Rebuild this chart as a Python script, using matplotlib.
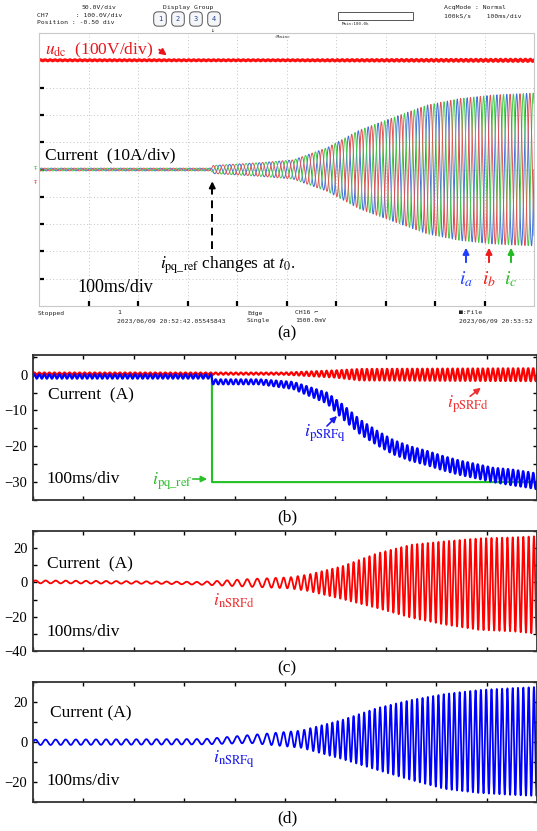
import numpy as np
import matplotlib
matplotlib.use("Agg")
import matplotlib.pyplot as plt
from matplotlib.patches import FancyArrowPatch, Rectangle
from matplotlib.lines import Line2D
from matplotlib.ticker import MultipleLocator

plt.rcParams['font.family'] = ['Liberation Serif', 'DejaVu Sans']
plt.rcParams['mathtext.fontset'] = 'stix'

W, H = 537, 831

# ---------------- data ----------------
# (a) scope: phase current envelope (A) vs time (ms), 50 Hz
scope_t = [0, 348, 352, 400, 446, 513, 582, 648, 715, 784, 850, 917, 1000]
scope_amp = [0.5, 0.5, 1.5, 2.0, 2.5, 3.5, 8.0, 14.5, 19.0, 23.6, 26.0, 27.3, 28.0]
scope_freq = 50
t0_scope = 350
udc_level = 400          # V (shown 4 div above centre)
udc_rip_t = [0, 500, 1000]
udc_rip = [2.0, 2.0, 4.0]

# (b) positive SRF currents (A)
t0_sim = 355
ref_before, ref_after = 0.0, -30.0
pq_t = [0, 354, 356, 450, 516, 583, 615, 649, 683, 714, 748, 782, 813, 847, 881, 913, 946, 980, 1000]
pq_mean = [-0.5, -0.5, -2.0, -2.0, -3.0, -6.5, -10.4, -14.6, -17.7, -20.2, -22.0, -23.3,
           -24.7, -26.0, -27.0, -28.0, -28.6, -29.3, -29.8]
pq_rip = [0.6, 0.6, 0.7, 0.7, 1.0, 1.5, 2.0, 2.0, 2.0, 2.0, 2.0, 2.0, 2.0, 2.0, 2.0, 2.0, 2.2, 2.2, 2.2]
pd_t = [0, 500, 600, 650, 1000]
pd_mean = [0.3, 0.3, 0.2, 0.0, 0.0]
pd_rip = [0.3, 0.3, 1.0, 1.6, 1.8]

# (c) i_nSRFd envelope (A)
nd_t = [0, 250, 330, 430, 510, 546, 613, 683, 750, 817, 885, 954, 1000]
nd_top = [1.2, 0.6, 0.3, 2.0, 3.0, 4.6, 9.4, 17.0, 22.0, 24.0, 25.7, 26.3, 27.0]
nd_bot = [-0.5, -0.8, -1.3, -2.5, -3.5, -5.0, -9.7, -15.0, -20.6, -24.6, -27.7, -28.6, -30.0]

# (d) i_nSRFq envelope (A)
nq_t = [0, 340, 430, 532, 613, 683, 750, 817, 885, 954, 1000]
nq_top = [1.2, 1.5, 3.5, 5.7, 11.0, 17.0, 21.0, 24.0, 26.0, 27.0, 27.5]
nq_bot = [-1.5, -1.2, -0.5, -2.9, -8.5, -14.0, -19.0, -23.5, -25.5, -26.5, -27.0]

# oscillation frequency in the SRF plots (Hz)
f_t = [0, 450, 580, 1000]
f_hz = [50, 50, 95, 95]

dt = 0.05
t = np.arange(0, 1000 + dt, dt)


def osc(knots, top, bot):
    up = np.interp(t, knots, top)
    lo = np.interp(t, knots, bot)
    ph = 2 * np.pi * np.cumsum(np.interp(t, f_t, f_hz)) * dt / 1000
    return (up + lo) / 2 + (up - lo) / 2 * np.sin(ph)


def rip(knots, mean, amp, f=100):
    return np.interp(t, knots, mean) + np.interp(t, knots, amp) * np.sin(2 * np.pi * f * t / 1000)


fig = plt.figure(figsize=(W / 100, H / 100), dpi=100)


def add_ax(l, top, r, b):
    return fig.add_axes([l / W, 1 - b / H, (r - l) / W, (b - top) / H])


def label(x, y, s, **kw):
    kw.setdefault('va', 'center')
    fig.text(x / W, 1 - y / H, s, **kw)


def arrow(x1, y1, x2, y2, color, lw=1.4):
    fig.add_artist(FancyArrowPatch((x1 / W, 1 - y1 / H), (x2 / W, 1 - y2 / H),
                                   transform=fig.transFigure, arrowstyle='-|>',
                                   mutation_scale=9, color=color, lw=lw))


# ---------------- (a) oscilloscope screen ----------------
ax = add_ax(39, 33, 534, 306)
ax.set_xlim(0, 1000)
ax.set_ylim(-5, 5)
for k in range(1, 10):
    ax.axvline(k * 100, color='#c4c4c4', lw=0.7, ls=(0, (1, 2.5)), zorder=0)
    ax.axhline(k - 5, color='#c4c4c4', lw=0.7, ls=(0, (1, 2.5)), zorder=0)
for s in ax.spines.values():
    s.set_color('#c8c8c8')
ax.set_xticks(range(100, 1000, 100))
ax.set_yticks(range(-4, 5))
ax.tick_params(direction='in', length=3.5, width=1.6, color='black',
               labelbottom=False, labelleft=False)

amp = np.interp(t, scope_t, scope_amp)
w = 2 * np.pi * scope_freq * t / 1000
ia = amp * np.sin(w)
ib = amp * np.sin(w - 2 * np.pi / 3)
ic = amp * np.sin(w + 2 * np.pi / 3)
ax.plot(t, ia / 10, color='#3f6fd8', lw=0.7)
ax.plot(t, ic / 10, color='#45cc45', lw=0.7)
ax.plot(t, ib / 10, color='#e25252', lw=0.7)
udc = udc_level + np.interp(t, udc_rip_t, udc_rip) * np.sin(2 * np.pi * 100 * t / 1000)
ax.plot(t, udc / 100, color='#ff1010', lw=2.2)

# header / status text of the scope
mono = dict(family=['DejaVu Sans Mono', 'DejaVu Sans'], fontsize=4.6, color='#222222')
label(82, 7, '50.0V/div', **mono)
label(37, 15, 'CH7       : 100.0V/div', **mono)
label(37, 22, 'Position : -0.50 div', **mono)
label(188, 8, 'Display Group', ha='center', **mono)
for i, xc in enumerate([160, 178, 196, 214]):
    label(xc, 19, str(i + 1), ha='center', family='DejaVu Sans Mono', fontsize=5,
          color='#24428a', bbox=dict(boxstyle='round,pad=0.6', fc='#f4f6fa', ec='#555555', lw=0.7))
label(212, 30, '\u2193', ha='center', **mono)
fig.add_artist(Rectangle((338 / W, 1 - 20 / H), 75 / W, 8 / H, transform=fig.transFigure,
                         fc='white', ec='#555555', lw=0.7))
label(342, 24, 'Main:100.0k', family='DejaVu Sans Mono', fontsize=3, color='#222222')
label(444, 8, 'AcqMode : Normal', **mono)
label(444, 16, '100kS/s    100ms/div', **mono)
label(283, 37, '<Main>', ha='center', family='DejaVu Sans Mono', fontsize=3.2, color='#222222')
label(38, 313, 'Stopped', **mono)
label(117, 313, '1', **mono)
label(117, 321, '2023/06/09 20:52:42.05545843', **mono)
label(247, 313, 'Edge', **mono)
label(247, 321, 'Single', **mono)
label(295, 313, 'CH16 \u2310', **mono)
label(295, 321, '1500.0mV', **mono)
label(459, 313, '\u25a0:File', **mono)
label(459, 321, '2023/06/09 20:53:52', **mono)
label(35, 169, '\u0166', ha='center', family='DejaVu Sans', fontsize=4, color='#30b030')
label(35, 183, '\u0166', ha='center', family='DejaVu Sans', fontsize=4, color='#e03030')

# annotations on the scope
label(45, 50, r'$u_{\mathrm{dc}}$  (100V/div)', fontsize=12.5, color='#e8161b')
arrow(157, 48, 169, 57, '#e8161b')
label(45, 155, 'Current  (10A/div)', fontsize=12.5)
ax.add_line(Line2D([t0_scope, t0_scope], [-2.9, -0.65], color='black', lw=1.4, ls=(0, (4, 3))))
ax.annotate('', xy=(t0_scope, -0.33), xytext=(t0_scope, -0.7),
            arrowprops=dict(arrowstyle='-|>', color='black', lw=1.4, mutation_scale=9))
label(160, 265, r'$i_{\mathrm{pq\_ref}}$ changes at $t_0$.', fontsize=12.5)
label(77, 288, '100ms/div', fontsize=13)
for xc, col, s in [(466, '#1f3fff', r'$i_a$'), (489, '#ee1c1c', r'$i_b$'), (511, '#22bb22', r'$i_c$')]:
    arrow(xc, 265, xc, 245, col)
    label(xc, 279, s, ha='center', fontsize=14, color=col)
label(287, 333, '(a)', ha='center', fontsize=12.5)


def style(a, ylim, major, minor):
    a.set_xlim(0, 1000)
    a.set_ylim(*ylim)
    a.xaxis.set_major_locator(MultipleLocator(100))
    a.yaxis.set_major_locator(MultipleLocator(major))
    a.yaxis.set_minor_locator(MultipleLocator(minor))
    a.tick_params(which='both', direction='in', top=True, right=True, length=3,
                  width=1.0, labelbottom=False, labelsize=10.5, pad=4)
    for s in a.spines.values():
        s.set_linewidth(1.3)
        s.set_color('#333333')


# ---------------- (b) ----------------
axb = add_ax(33, 355, 537, 500)
ref = np.where(t < t0_sim, ref_before, ref_after)
axb.plot(t, ref, color='#22c022', lw=1.5)
axb.plot(t, rip(pd_t, pd_mean, pd_rip), color='#ff0000', lw=1.6)
axb.plot(t, rip(pq_t, pq_mean, pq_rip), color='#0000ff', lw=1.6)
style(axb, (-35, 5.5), 10, 5)
label(48, 395, 'Current  (A)', fontsize=12.5)
label(46, 479, '100ms/div', fontsize=12.5)
label(152, 481, r'$i_{\mathrm{pq\_ref}}$', fontsize=13, color='#2cbf2c')
arrow(190, 479, 210, 479, '#2cbf2c', lw=1.2)
label(304, 433, r'$i_{\mathrm{pSRFq}}$', fontsize=13, color='#1a1aee')
arrow(325, 428, 339, 414, '#1a1aee', lw=1.2)
label(447, 404, r'$i_{\mathrm{pSRFd}}$', fontsize=13, color='#f03030')
arrow(468, 398, 483, 386, '#f03030', lw=1.2)
label(287, 517, '(b)', ha='center', fontsize=12.5)

# ---------------- (c) ----------------
axc = add_ax(33, 531, 537, 651)
axc.plot(t, osc(nd_t, nd_top, nd_bot), color='#ff0000', lw=1.3)
style(axc, (-40, 30), 20, 10)
label(47, 564, 'Current  (A)', fontsize=12.5)
label(46, 632, '100ms/div', fontsize=12.5)
label(213, 601, r'$i_{\mathrm{nSRFd}}$', fontsize=13, color='#f03030')
label(287, 668, '(c)', ha='center', fontsize=12.5)

# ---------------- (d) ----------------
axd = add_ax(33, 682, 537, 802)
axd.plot(t, osc(nq_t, nq_top, nq_bot), color='#0000ff', lw=1.3)
style(axd, (-30, 30), 20, 10)
label(50, 713, 'Current (A)', fontsize=12.5)
label(46, 781, '100ms/div', fontsize=12.5)
label(213, 759, r'$i_{\mathrm{nSRFq}}$', fontsize=13, color='#1a1aee')
label(287, 818, '(d)', ha='center', fontsize=12.5)

fig.savefig('out.png', dpi=100)
